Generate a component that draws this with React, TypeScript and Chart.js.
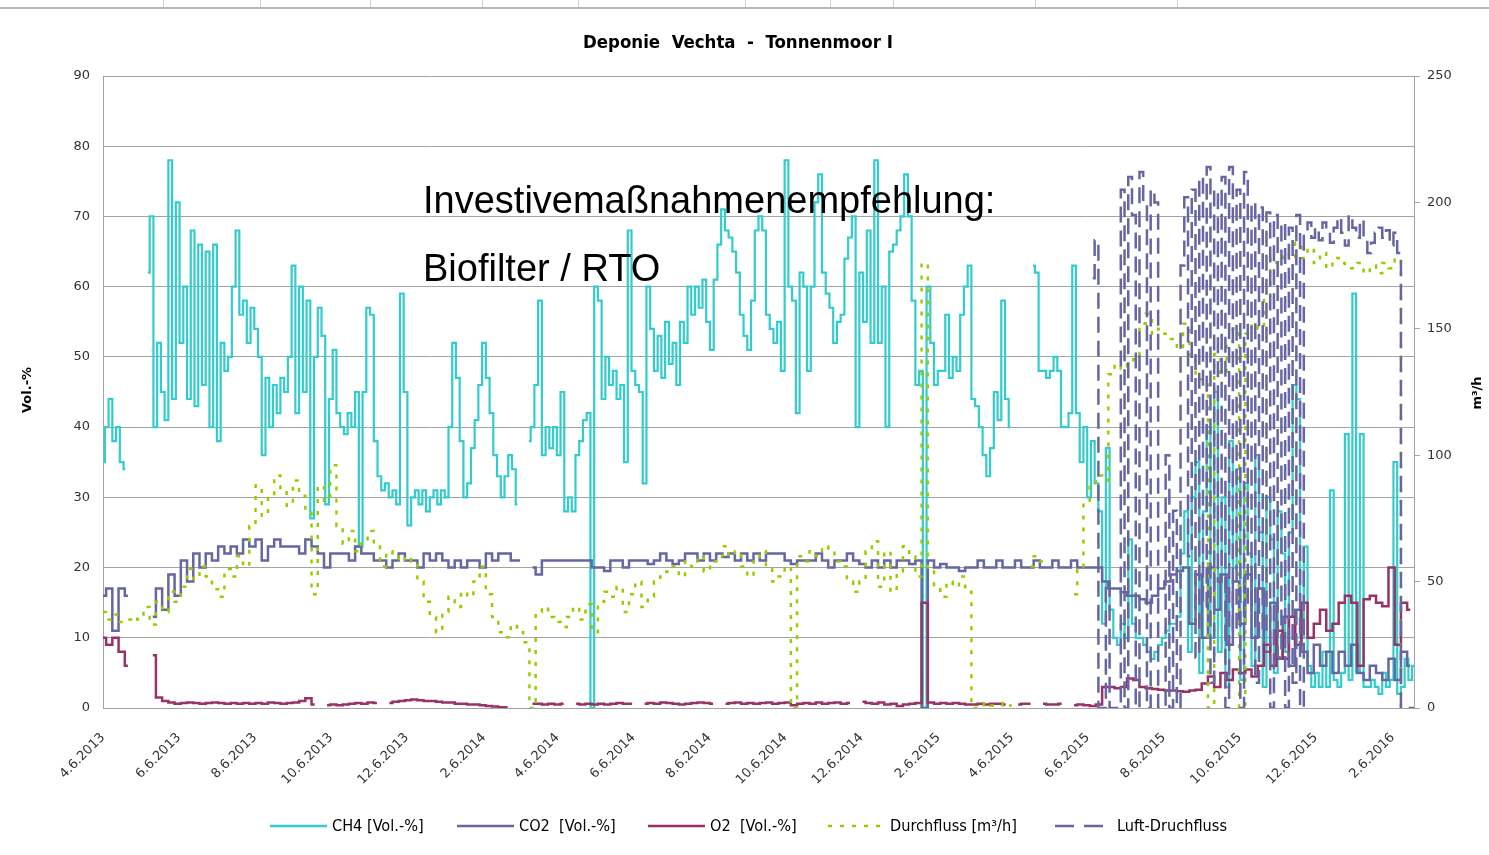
import React, { useEffect, useRef } from 'react';
import { Chart, registerables } from 'chart.js';

Chart.register(...registerables);

// ---------- data ----------
const START = Date.UTC(2013, 3, 6);
const END_DAY = 1053;
const CH4_STEP = 3; // days between CH4 samples
const GRID_STEP = 5; // days between samples of CO2 / O2 / Durchfluss
const LUFT_START = 795;
const LUFT_STEP = 3;

const tickLabels = [
  '4.6.2013', '6.6.2013', '8.6.2013', '10.6.2013', '12.6.2013', '2.6.2014',
  '4.6.2014', '6.6.2014', '8.6.2014', '10.6.2014', '12.6.2014', '2.6.2015',
  '4.6.2015', '6.6.2015', '8.6.2015', '10.6.2015', '12.6.2015', '2.6.2016',
];

const ch4: (number | null)[] = [
  35, 40, 44, 38, 40, 35, 34, null, null, null,
  null, null, 62, 70, 40, 52, 45, 41, 78, 44,
  72, 52, 60, 44, 68, 43, 66, 46, 65, 40,
  66, 38, 52, 48, 50, 60, 68, 56, 58, 52,
  57, 54, 50, 36, 47, 40, 46, 42, 47, 45,
  50, 63, 42, 60, 45, 58, 27, 50, 57, 53,
  29, 44, 51, 42, 40, 39, 42, 40, 45, 23,
  45, 57, 56, 38, 33, 31, 32, 30, 31, 29,
  59, 45, 26, 30, 31, 29, 31, 28, 30, 31,
  29, 31, 30, 40, 52, 47, 38, 30, 32, 37,
  41, 46, 52, 47, 42, 36, 33, 30, 33, 36,
  34, 29, null, null, 38, 40, 46, 58, 36, 40,
  37, 40, 36, 45, 28, 30, 28, 36, 38, 41,
  42, 0, 60, 58, 44, 50, 46, 48, 44, 46,
  35, 68, 48, 46, 45, 32, 60, 54, 48, 53,
  47, 55, 49, 52, 46, 55, 52, 60, 56, 60,
  57, 61, 55, 51, 61, 66, 71, 68, 67, 65,
  62, 56, 53, 51, 58, 68, 70, 68, 56, 54,
  52, 55, 48, 78, 60, 58, 42, 62, 60, 48,
  60, 72, 76, 62, 59, 57, 52, 55, 56, 64,
  67, 70, 40, 62, 55, 68, 52, 78, 52, 60,
  40, 65, 66, 68, 70, 76, 70, 58, 46, 48,
  0, 60, 52, 46, 48, 48, 56, 47, 50, 48,
  56, 60, 63, 44, 43, 40, 36, 33, 37, 45,
  41, 58, 44, 40, null, null, 40, null, null, 63,
  62, 48, 48, 47, 48, 50, 48, 40, 40, 42,
  63, 42, 35, 40, 30, 38, 32, 28, 12, 37,
  14, 10, 9, 12, 10, 24, 12, 10, 10, 9,
  8, 7, 8, 9, 10, 11, 12, 12, 13, 22,
  28, 8, 30, 35, 5, 28, 40, 10, 45, 8,
  30, 3, 38, 20, 34, 4, 32, 22, 6, 36,
  25, 3, 30, 24, 5, 28, 22, 8, 25, 46,
  44, 10, 23, 6, 3, 5, 3, 8, 3, 31,
  4, 3, 5, 39, 4, 59, 5, 39, 3, 3,
  4, 3, 2, 5, 3, 4, 35, 2, 3, 7,
  4, 6,
];

const co2: (number | null)[] = [
  16, 17, 11, 17, 16, null, null, null, 13, 17,
  14, 19, 16, 21, 18, 22, 20, 22, 21, 23,
  22, 23, 22, 24, 23, 24, 21, 23, 24, 23,
  23, 23, 22, 24, 23, 22, 20, 22, 22, 22,
  21, 23, 22, 22, 21, 21, 20, 21, 22, 21,
  21, 20, 22, 21, 22, 21, 20, 21, 20, 21,
  21, 20, 22, 21, 22, 22, 21, 21, null, 20,
  19, 21, 21, 21, 21, 21, 21, 21, 21, 20,
  20, 19.5, 21, 21, 20, 21, 21, 21, 20.5, 21,
  22, 21, 20.5, 21, 22, 22, 21, 22, 21, 22,
  21.5, 22, 21, 22, 21, 22, 21, 22, 22, 22,
  21, 20.5, 21, 21, 21, 22, 21, 20, 21, 21,
  22, 21, 20.5, 20, 21, 20, 21, 20, 21, 21,
  20.5, 21, 0, 21, 20, 20.5, 20, 20, 19.5, 20,
  20, 21, 20, 20, 21, 20, 20, 21, 20, 20,
  21, 20, 20, 21, 20, 20, 21, 20, 20, 20,
  20, 18, 17, 17, 16.5, 16, 16, 15.5, 15, 16,
  17, 18, 19, 19.5, 20, 12, 19, 10, 20, 14,
  19, 9, 18, 12, 19, 10, 17, 8, 15, 7,
  13, 6, 14, 8, 5, 9, 6, 8, 5, 8,
  6, 9, 5, 4, 6, 5, 4, 7, 4, 8,
  6,
];

const o2: (number | null)[] = [
  10, 9, 10, 8, 6, null, null, null, 7.5, 1.5,
  1.0, 0.8, 0.6, 0.7, 0.8, 0.7, 0.6, 0.7, 0.8, 0.7,
  0.6, 0.7, 0.6, 0.7, 0.6, 0.7, 0.6, 0.8, 0.7, 0.6,
  0.7, 0.8, 1.0, 1.4, 0.5, null, 0.4, 0.5, 0.4, 0.5,
  0.6, 0.7, 0.6, 0.8, 0.7, null, 0.7, 0.9, 1.0, 1.1,
  1.2, 1.1, 1.0, 1.0, 0.9, 0.8, 0.8, 0.6, 0.6, 0.5,
  0.5, 0.4, 0.3, 0.2, 0.1, 0.1, null, 0.1, null, 0.6,
  0.6, 0.5, 0.6, 0.5, 0.6, null, 0.6, 0.5, 0.6, 0.5,
  0.6, 0.5, 0.6, 0.7, 0.6, 0.6, null, 0.6, 0.7, 0.6,
  0.8, 0.7, 0.6, 0.5, 0.6, 0.7, 0.8, 0.7, 0.6, null,
  0.6, 0.7, 0.8, 0.6, 0.7, 0.6, 0.7, 0.8, 0.6, 0.7,
  0.8, 0.4, 0.6, 0.7, 0.6, 0.8, 0.6, 0.7, 0.8, 0.6,
  0.7, null, 0.9, 0.7, 0.6, 0.8, 0.5, 0.6, 0.3, 0.5,
  0.6, 0.7, 15, 0.8, 0.6, 0.7, 0.6, 0.7, 0.6, 0.5,
  0.5, 0.6, 0.5, 0.6, 0.6, 0.5, null, 0.5, 0.6, 0.6,
  null, 0.6, 0.5, 0.5, 0.6, null, 0.4, 0.5, 0.4, 0.3,
  0.5, 3, 3, 2.8, 3, 4.2, 4, 3, 2.8, 2.7,
  2.6, 2.5, 2.5, 2.4, 2.3, 2.5, 2.6, 3.5, 4.5, 3,
  5, 4, 5.5, 5, 5.5, 4.5, 6, 9, 6, 11,
  7, 13, 9, 15, 10, 12, 14, 11, 12, 15,
  16, 15, 6, 15.5, 16, 15, 14.5, 20, 9, 15,
  14,
];

const durchfluss: (number | null)[] = [
  38, 35, 37, 34, 35, 36, 35, 40, 33, 42,
  38, 46, 42, 48, 55, 51, 56, 52, 47, 44,
  55, 52, 60, 56, 72, 88, 76, 84, 92, 86,
  80, 90, 84, 78, 45, 88, 82, 96, 72, 65,
  70, 62, 66, 70, 65, 56, 62, 60, 58, 60,
  58, 50, 42, 36, 30, 38, 44, 40, 46, 44,
  50, 56, 45, 36, 30, 28, 33, 30, 26, 0,
  38, 40, 36, 34, 32, 36, 40, 35, 41, 30,
  42, 46, 44, 48, 38, 45, 50, 40, 44, 50,
  52, 54, 56, 52, 58, 56, 60, 54, 58, 60,
  64, 60, 62, 56, 52, 58, 62, 55, 50, 52,
  56, 0, 60, 58, 62, 60, 64, 62, 58, 56,
  50, 46, 50, 62, 66, 48, 62, 46, 54, 64,
  60, 52, 176, 55, 48, 44, 50, 48, 52, 46,
  0, 1, 2, 1, 1, 2, 1, null, null, 56,
  60, 58, null, null, null, null, 45, 55, 82, 88,
  92, 90, 132, 136, 134, 136, 138, 152, 156, 148,
  150, 148, 146, 142, 152, 138, 130, 128, 0, 140,
  132, 145, 150, 0, 148, 152, 150, 162, 178, 176,
  180, 178, 184, 178, 182, 176, 180, 174, 178, 176,
  175, 174, 176, 172, 175, 172, 176, 174, 178, 0,
  0,
];

const luftDurchfluss: number[] = [
  170, 185, 0, 0, 50, 0, 0, 0, 205, 0,
  210, 195, 0, 212, 200, 0, 205, 200, 0, 0,
  100, 0, 78, 0, 175, 202, 60, 205, 20, 210,
  40, 214, 10, 205, 50, 210, 0, 214, 30, 205,
  0, 212, 40, 200, 10, 198, 30, 196, 0, 195,
  20, 192, 0, 190, 10, 195, 0, 188, 192, 186,
  190, 185, 192, 188, 184, 190, 194, 188, 183, 195,
  190, 186, 193, 185, 180, 184, 188, 190, 186, 189,
  183, 188, 180, 0, 0, 0, 0,
];

const tickDays = tickLabels.map((l) => {
  const [m, d, y] = l.split('.').map(Number);
  return Math.round((Date.UTC(y, m - 1, d) - START) / 86400000);
});

const toPoints = (vals: (number | null)[], start: number, step: number) =>
  vals.map((v, i) => ({ x: start + i * step, y: v }));

// ---------- styles / layout ----------
const W = 1489;
const H = 855;
const NARROW = "'Liberation Sans Narrow', 'DejaVu Sans Condensed', sans-serif";
const SANS = "'DejaVu Sans', Verdana, sans-serif";
const C_CH4 = '#33CCCC';
const C_CO2 = '#6666A3';
const C_O2 = '#993366';
const C_DURCH = '#99CC00';
const GRID = '#a3a3a3';
const sheetCols = [163, 260, 370, 482, 578, 745, 830, 893, 1035, 1177];

const legendItems = [
  { text: 'CH4 [Vol.-%]', color: C_CH4, dash: [] as number[], x: 270 },
  { text: 'CO2  [Vol.-%]', color: C_CO2, dash: [] as number[], x: 457 },
  { text: 'O2  [Vol.-%]', color: C_O2, dash: [] as number[], x: 648 },
  { text: 'Durchfluss [m³/h]', color: C_DURCH, dash: [4, 8], x: 828 },
  { text: 'Luft-Druchfluss', color: C_CO2, dash: [19, 10], x: 1055 },
];

function fitSize(ctx: CanvasRenderingContext2D, text: string, weight: string, family: string, width: number) {
  ctx.font = `${weight} 100px ${family}`;
  return (100 * width) / ctx.measureText(text).width;
}

const decorPlugin = {
  id: 'decor',
  afterDraw(chart: any) {
    const ctx: CanvasRenderingContext2D = chart.ctx;
    ctx.save();
    // spreadsheet border at the very top
    ctx.strokeStyle = '#b8b8b8';
    ctx.lineWidth = 2;
    ctx.beginPath();
    ctx.moveTo(0, 8);
    ctx.lineTo(W, 8);
    ctx.stroke();
    ctx.lineWidth = 1;
    ctx.strokeStyle = '#d0d0d0';
    for (const x of sheetCols) {
      ctx.beginPath();
      ctx.moveTo(x + 0.5, 0);
      ctx.lineTo(x + 0.5, 7);
      ctx.stroke();
    }

    // title
    const title = 'Deponie  Vechta  -  Tonnenmoor I';
    const ts = fitSize(ctx, title, 'bold', NARROW, 310);
    ctx.font = `bold ${ts}px ${NARROW}`;
    ctx.fillStyle = '#000';
    ctx.textAlign = 'left';
    ctx.textBaseline = 'alphabetic';
    ctx.fillText(title, 583, 48);

    // axis titles
    ctx.font = `bold 13px ${SANS}`;
    ctx.textAlign = 'center';
    ctx.textBaseline = 'middle';
    ctx.save();
    ctx.translate(28, 390);
    ctx.rotate(-Math.PI / 2);
    ctx.fillText('Vol.-%', 0, 0);
    ctx.restore();
    ctx.save();
    ctx.translate(1478, 393);
    ctx.rotate(-Math.PI / 2);
    ctx.fillText('m³/h', 0, 0);
    ctx.restore();

    // annotation
    ctx.font = `38px 'Liberation Sans', Arial, sans-serif`;
    ctx.textAlign = 'left';
    ctx.textBaseline = 'alphabetic';
    ctx.fillStyle = '#000';
    ctx.fillText('Investivemaßnahmenempfehlung:', 423, 213);
    ctx.fillText('Biofilter / RTO', 423, 281);

    // legend
    const ls = fitSize(ctx, 'Durchfluss [m³/h]', 'normal', NARROW, 127);
    for (const it of legendItems) {
      ctx.strokeStyle = it.color;
      ctx.lineWidth = 2.5;
      ctx.setLineDash(it.dash);
      ctx.beginPath();
      ctx.moveTo(it.x, 826);
      ctx.lineTo(it.x + 57, 826);
      ctx.stroke();
      ctx.setLineDash([]);
      ctx.font = `${ls}px ${NARROW}`;
      ctx.fillStyle = '#000';
      ctx.textBaseline = 'middle';
      ctx.fillText(it.text, it.x + 62, 827);
    }
    ctx.restore();
  },
};

export default function App() {
  const ref = useRef<HTMLCanvasElement>(null);

  useEffect(() => {
    if (!ref.current) return;
    const tickFont = { family: SANS, size: 13 };
    const common = { pointRadius: 0, stepped: 'middle' as const };
    const chart = new Chart(ref.current, {
      type: 'line',
      data: {
        datasets: [
          {
            ...common,
            label: 'CH4 [Vol.-%]',
            data: toPoints(ch4, 0, CH4_STEP),
            borderColor: C_CH4,
            backgroundColor: C_CH4,
            borderWidth: 2.2,
            yAxisID: 'y',
            order: 5,
          },
          {
            ...common,
            label: 'CO2  [Vol.-%]',
            data: toPoints(co2, 0, GRID_STEP),
            borderColor: C_CO2,
            backgroundColor: C_CO2,
            borderWidth: 2.5,
            yAxisID: 'y',
            order: 4,
          },
          {
            ...common,
            label: 'O2  [Vol.-%]',
            data: toPoints(o2, 0, GRID_STEP),
            borderColor: C_O2,
            backgroundColor: C_O2,
            borderWidth: 2.5,
            yAxisID: 'y',
            order: 3,
          },
          {
            ...common,
            label: 'Durchfluss [m³/h]',
            data: toPoints(durchfluss, 0, GRID_STEP),
            borderColor: C_DURCH,
            backgroundColor: C_DURCH,
            borderWidth: 2.5,
            borderDash: [4, 8],
            yAxisID: 'y1',
            order: 2,
          },
          {
            ...common,
            label: 'Luft-Druchfluss',
            data: toPoints(luftDurchfluss, LUFT_START, LUFT_STEP),
            borderColor: C_CO2,
            backgroundColor: C_CO2,
            borderWidth: 2.5,
            borderDash: [16, 8],
            yAxisID: 'y1',
            order: 1,
          },
        ],
      },
      options: {
        responsive: false,
        animation: false,
        devicePixelRatio: 1,
        spanGaps: false,
        layout: { padding: { top: 76, left: 0, right: 0, bottom: 47 } },
        plugins: {
          legend: { display: false },
          title: { display: false },
          tooltip: { enabled: false },
        },
        scales: {
          x: {
            type: 'linear',
            min: 0,
            max: END_DAY,
            afterBuildTicks: (axis: any) => {
              axis.ticks = tickDays.map((v) => ({ value: v }));
            },
            afterFit: (s: any) => {
              s.height = 100;
            },
            ticks: {
              autoSkip: false,
              minRotation: 45,
              maxRotation: 45,
              padding: 14,
              color: '#333',
              font: tickFont,
              callback: (_v: any, i: number) => tickLabels[i],
            },
            grid: { display: false },
            border: { display: true, color: GRID, width: 1 },
          },
          y: {
            position: 'left',
            min: 0,
            max: 90,
            afterFit: (s: any) => {
              s.width = 103;
            },
            ticks: { stepSize: 10, padding: 13, color: '#333', font: tickFont },
            grid: { color: GRID, lineWidth: 1, drawTicks: false },
            border: { display: true, color: GRID, width: 1 },
          },
          y1: {
            position: 'right',
            min: 0,
            max: 250,
            afterFit: (s: any) => {
              s.width = 75;
            },
            ticks: { stepSize: 50, padding: 7, color: '#333', font: tickFont },
            grid: { drawOnChartArea: false, drawTicks: true, tickLength: 6, color: GRID },
            border: { display: true, color: GRID, width: 1 },
          },
        },
      },
      plugins: [decorPlugin],
    } as any);
    return () => chart.destroy();
  }, []);

  return (
    <canvas
      ref={ref}
      width={W}
      height={H}
      style={{ position: 'absolute', left: 0, top: 0, width: W, height: H, background: '#fff' }}
    />
  );
}
